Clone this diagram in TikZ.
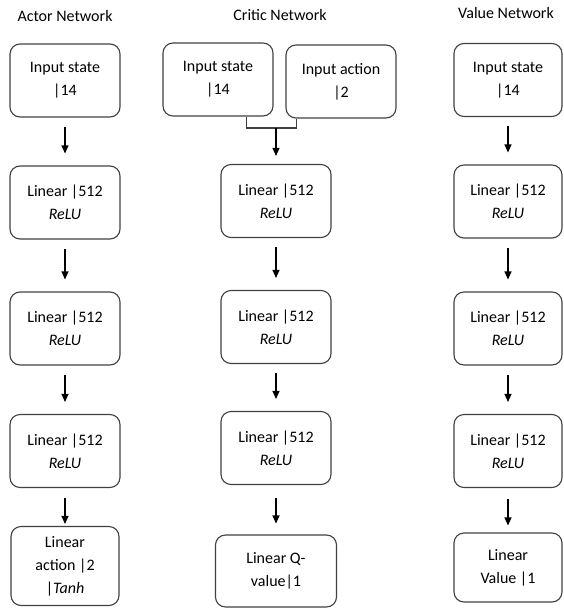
\documentclass[tikz,border=0pt]{standalone}
\usepackage{fontspec}
\setmainfont{Carlito}
\usepackage{tikz}
\usetikzlibrary{positioning,arrows.meta}

\begin{document}
\begin{tikzpicture}[x=1pt,y=-1pt,font=\fontsize{16}{23}\selectfont,
  layer/.style={draw=black!75, line width=1.1pt, rounded corners=10pt, minimum width=110pt, minimum height=73pt, align=center, inner sep=2pt},
  flow/.style={black, line width=1.1pt, -{Triangle[width=7pt,length=8pt]}, shorten <=9pt, shorten >=12pt},
  title/.style={inner sep=0pt}]
\useasboundingbox (0,0) rectangle (563,611);

\node[title] (tactor) at (65,16) {Actor Network};
\node[title] (tcritic) at (280,15) {Critic Network};
\node[title] (tvalue) at (506,13) {Value Network};

\node[layer] (a0) at (65,80.5) {Input state\\|14};
\node[layer] (a1) at (65,202.5) {Linear |512\\\textit{ReLU}};
\node[layer] (a2) at (65,328.5) {Linear |512\\\textit{ReLU}};
\node[layer] (a3) at (65,451) {Linear |512\\\textit{ReLU}};
\node[layer, minimum width=108pt, minimum height=79pt] (a4) at (65,566) {Linear\\action |2\\|\textit{Tanh}};

\node[layer] (cs) at (218,79.5) {Input state\\|14};
\node[layer] (ca) at (341,81.5) {Input action\\|2};
\node[layer] (c1) at (276,201) {Linear |512\\\textit{ReLU}};
\node[layer] (c2) at (276,327) {Linear |512\\\textit{ReLU}};
\node[layer] (c3) at (276,448) {Linear |512\\\textit{ReLU}};
\node[layer, minimum width=121pt, minimum height=72pt] (c4) at (276,571) {Linear Q-\\value|1};

\node[layer, minimum width=108pt] (v0) at (508,80) {Input state\\|14};
\node[layer, minimum width=108pt] (v1) at (508,201.5) {Linear |512\\\textit{ReLU}};
\node[layer, minimum width=108pt] (v2) at (508,328.5) {Linear |512\\\textit{ReLU}};
\node[layer, minimum width=108pt] (v3) at (508,451) {Linear |512\\\textit{ReLU}};
\node[layer, minimum width=108pt, minimum height=69pt] (v4) at (508,567.5) {Linear\\Value |1};

\draw[flow] (a0) -- (a1);
\draw[flow] (a1) -- (a2);
\draw[flow] (a2) -- (a3);
\draw[flow, shorten <=10pt, shorten >=2pt] (a3) -- (a4);

\coordinate (bl) at ([xshift=-27pt]cs.south east);
\coordinate (br) at ([xshift=11pt]ca.south west);
\coordinate (cjoin) at (276,128);
\draw[black!75, line width=1.1pt] (bl) |- (cjoin) -| (br);
\draw[flow, shorten <=0pt, shorten >=8pt] (cjoin) -- (c1);
\draw[flow] (c1) -- (c2);
\draw[flow] (c2) -- (c3);
\draw[flow, shorten <=13pt, shorten >=11pt] (c3) -- (c4);

\draw[flow] (v0) -- (v1);
\draw[flow] (v1) -- (v2);
\draw[flow] (v2) -- (v3);
\draw[flow, shorten <=11pt, shorten >=7pt] (v3) -- (v4);
\end{tikzpicture}
\end{document}
